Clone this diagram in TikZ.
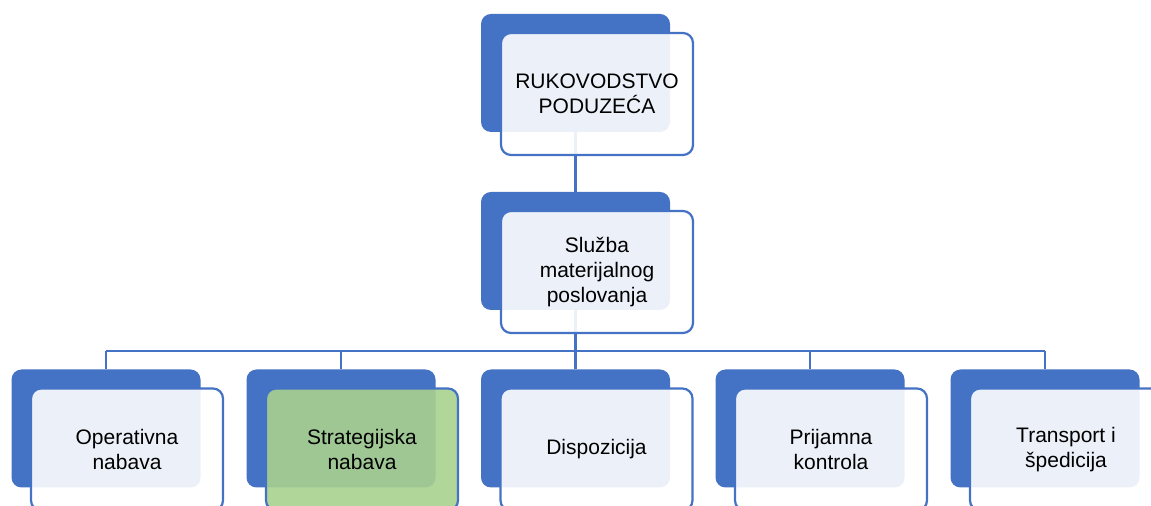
\documentclass[tikz,border=0pt]{standalone}
\usepackage{fontspec}
\setmainfont{Liberation Sans}
\usetikzlibrary{positioning,calc}
\definecolor{orgblue}{HTML}{4472C4}
\definecolor{orggreen}{HTML}{A9D18E}

\begin{document}
\begin{tikzpicture}[x=0.5pt,y=-0.5pt,
    back/.style={fill=orgblue,rounded corners=5pt,inner sep=0pt,
        minimum width=94.5pt,minimum height=59pt},
    front/.style={draw=orgblue,line width=1.1pt,fill=white,fill opacity=.9,
        text opacity=1,rounded corners=5pt,inner sep=0pt,
        minimum width=96pt,minimum height=61pt,align=center,
        font=\fontsize{10.5}{12.5}\selectfont},
    link/.style={draw=orgblue,line width=1.1pt}]

        \useasboundingbox (0,0) rectangle (1151,506);
        \clip (0,0) rectangle (1151,506);

        % back boxes
        \node[back] (rukB) at (575.5,73) {};
        \node[back] (sluB) at (575.5,251) {};
        \node[back] (opB) at (106,428.5) {};
        \node[back] (stB) at (341,428.5) {};
        \node[back] (diB) at (575.5,428.5) {};
        \node[back] (prB) at (810,428.5) {};
        \node[back] (trB) at (1045,428.5) {};

        \coordinate (bus) at (575.5,351);

        % connectors
        \draw[link] (rukB.south) -- (sluB.north);
        \draw[link] (sluB.south) -- (bus);
        \draw[link] (bus -| opB.north) -- (bus -| trB.north);
        \foreach \n in {opB,stB,diB,prB,trB}
            \draw[link] (bus -| \n.north) -- (\n.north);

        % front boxes
        \node[front] (ruk) at ([shift={(21.5,21)}]rukB) {RUKOVODSTVO\\PODUZEĆA};
        \node[front] (slu) at ([shift={(21.5,21)}]sluB) {Služba\\materijalnog\\poslovanja};
        \node[front] (op) at ([shift={(21,21)}]opB) {Operativna\\nabava};
        \node[front,fill=orggreen] (st) at ([shift={(21,21)}]stB) {Strategijska\\nabava};
        \node[front] (di) at ([shift={(21,21)}]diB) {Dispozicija};
        \node[front] (pr) at ([shift={(21,21)}]prB) {Prijamna\\kontrola};
        \node[front] (tr) at ([shift={(21,21)}]trB) {Transport i\\špedicija};

\end{tikzpicture}
\end{document}
